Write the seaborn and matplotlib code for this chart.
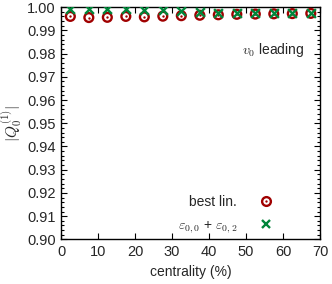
import numpy as np
import pandas as pd
import matplotlib
matplotlib.use("Agg")
import matplotlib.pyplot as plt
import seaborn as sns
from matplotlib.ticker import MultipleLocator
from matplotlib.lines import Line2D

centrality = [2.5, 7.5, 12.5, 17.5, 22.5, 27.5, 32.5, 37.5, 42.5, 47.5, 52.5, 57.5, 62.5, 67.5]
best_lin = [0.9960, 0.9955, 0.9956, 0.9960, 0.9958, 0.9961, 0.9963, 0.9965, 0.9967, 0.9969, 0.9970, 0.9971, 0.9972, 0.9973]
eps_sum = [0.9992, 0.9990, 0.9990, 0.9990, 0.9988, 0.9986, 0.9982, 0.9978, 0.9975, 0.9974, 0.9973, 0.9973, 0.9973, 0.9974]
label_best = "best lin."
label_eps = r"$\varepsilon_{0,0}$ + $\varepsilon_{0,2}$"

sns.set_style("ticks")
plt.rcParams['font.family'] = ['Liberation Sans', 'DejaVu Sans']
plt.rcParams['mathtext.fontset'] = 'cm'

red = "#A00000"
green = "#00853A"

fig = plt.figure(figsize=(3.32, 2.84), dpi=100)
ax = fig.add_axes([0.184, 0.157, 0.780, 0.818])

df = pd.DataFrame({"c": centrality, "b": best_lin, "e": eps_sum})
sns.scatterplot(data=df, x="c", y="b", ax=ax, marker="o", s=40, facecolor="none",
                edgecolor=red, linewidth=1.7, legend=False, zorder=3)
sns.scatterplot(data=df, x="c", y="b", ax=ax, marker="o", s=3, color=red,
                linewidth=0, legend=False, zorder=3)
sns.scatterplot(data=df, x="c", y="e", ax=ax, marker="x", s=40, color=green,
                linewidth=1.7, legend=False, zorder=4)

ax.set_xlim(0, 70)
ax.set_ylim(0.90, 1.00)
ax.xaxis.set_major_locator(MultipleLocator(10))
ax.yaxis.set_major_locator(MultipleLocator(0.01))
ax.yaxis.set_minor_locator(MultipleLocator(0.002))
ax.yaxis.set_major_formatter(matplotlib.ticker.FormatStrFormatter("%.2f"))
ax.tick_params(which="both", direction="in", top=True, right=True, labelsize=10.5,
               color="black", width=0.8)
ax.tick_params(which="major", length=4, pad=4)
ax.tick_params(which="minor", length=2)
for s in ax.spines.values():
    s.set_linewidth(1.0)
    s.set_color("black")

ax.set_xlabel("centrality (%)", fontsize=10, labelpad=4)
ax.set_ylabel(r"$|Q_0^{(1)}|$", fontsize=11, labelpad=2)

ax.text(0.94, 0.815, r"$v_0$ leading", transform=ax.transAxes, ha="right", va="center",
        fontsize=10)

h1 = (Line2D([], [], ls="none", marker="o", markersize=6.3, mfc="none", mec=red, mew=1.7),
      Line2D([], [], ls="none", marker="o", markersize=1.7, mfc=red, mec=red, mew=0))
h2 = Line2D([], [], ls="none", marker="x", markersize=6.3, color=green, mew=1.7)
leg = ax.legend([h1, h2], [label_best, label_eps], loc="lower right", markerfirst=False,
                frameon=False, fontsize=10, bbox_to_anchor=(0.84, -0.005),
                handlelength=1.0, handletextpad=1.6, labelspacing=0.62, borderaxespad=0.0)

fig.savefig("out.png", dpi=100)
